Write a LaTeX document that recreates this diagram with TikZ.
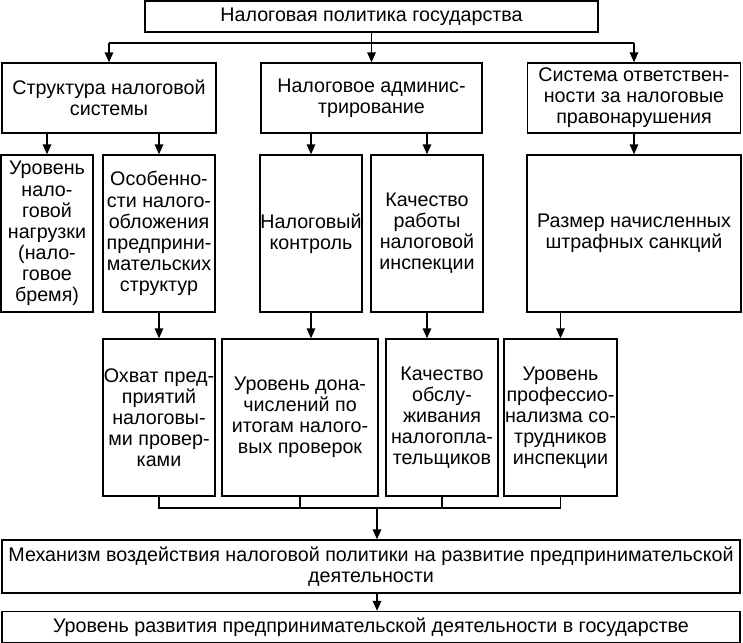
\documentclass[tikz,border=0pt]{standalone}
\usepackage{fontspec}
\setmainfont{Liberation Sans}
\usetikzlibrary{calc}
\usetikzlibrary{arrows.meta}

\begin{document}
\begin{tikzpicture}[
    x=0.025cm, y=-0.025cm,
    every node/.style={font=\fontsize{14}{15}\selectfont},
    line width=1pt
  ]

% Frame of the whole scheme (pixels of the original, y goes down)
\useasboundingbox (0,0) rectangle (743,643);

% Boxes get their width and height in pixels, arrows have a filled tip
\tikzset{box/.style 2 args={
    draw, align=center, inner sep=0pt,
    minimum width=#1*0.025cm, minimum height=#2*0.025cm
  },
  arr/.style={-{Triangle[length=7pt,width=6pt]}}
}

% Vertical centres of the rows
\pgfmathsetmacro{\yone}{16.5}
\pgfmathsetmacro{\ytwo}{98}
\pgfmathsetmacro{\ythree}{233.5}
\pgfmathsetmacro{\yfour}{417.5}

% Row 1: the policy itself
\node[box={453}{31}] (top) at (371.5,\yone) {Налоговая политика государства};

% Row 2: three parts of the policy
\node[box={214}{70}] (str) at (109,\ytwo) {Структура налоговой\\системы};
\node[box={221}{70}] (adm) at (371.5,\ytwo) {Налоговое админис-\\трирование};
\node[box={213}{70}] (otv) at (634,\ytwo) {Система ответствен-\\ности за налоговые\\правонарушения};

% Row 3
\node[box={92}{157}] (urov) at (47,\ythree) {Уровень\\нало-\\говой\\нагрузки\\(нало-\\говое\\бремя)};
\node[box={112}{157}] (osob) at (159,\ythree) {Особенно-\\сти налого-\\обложения\\предприни-\\мательских\\структур};
\node[box={102}{157}] (kontr) at (311,\ythree) {Налоговый\\контроль};
\node[box={112}{157}] (kachr) at (427,\ythree) {Качество\\работы\\налоговой\\инспекции};
\node[box={214}{157}] (razm) at (634,\ythree) {Размер начисленных\\штрафных санкций};

% Row 4
\node[box={112}{157}] (ohvat) at (159,\yfour) {Охват пред-\\приятий\\налоговы-\\ми провер-\\ками};
\node[box={156}{157}] (donach) at (300,\yfour) {Уровень дона-\\числений по\\итогам налого-\\вых проверок};
\node[box={112}{157}] (obsl) at (442,\yfour) {Качество\\обслу-\\живания\\налогопла-\\тельщиков};
\node[box={113}{157}] (prof) at (560.5,\yfour) {Уровень\\профессио-\\нализма со-\\трудников\\инспекции};

% Bottom rows
\node[box={738}{53}] (mech) at (371,566.5) {Механизм воздействия налоговой политики на развитие предпринимательской\\деятельности};
\node[box={738}{31}] (last) at (371,627) {Уровень развития предпринимательской деятельности в государстве};

% Row 1 -> row 2
\coordinate (hub) at (371.5,43);
\draw (top) -- (hub);
\draw (hub -| str) -- (hub -| otv);
\draw[arr] (hub -| str) -- (str.north);
\draw[arr] (hub) -- (adm.north);
\draw[arr] (hub -| otv) -- (otv.north);

% Row 2 -> row 3
\draw[arr] (str.south -| urov) -- (urov.north);
\draw[arr] (str.south -| osob) -- (osob.north);
\draw[arr] (adm.south -| kontr) -- (kontr.north);
\draw[arr] (adm.south -| kachr) -- (kachr.north);
\draw[arr] (otv) -- (razm);

% Row 3 -> row 4
\draw[arr] (osob) -- (ohvat);
\draw[arr] (kontr.south) -- (kontr.south |- donach.north);
\draw[arr] (kachr.south) -- (kachr.south |- obsl.north);
\draw[arr] (razm.south -| prof) -- (prof.north);

% Row 4 gathered into one line, then down to the bottom rows
\coordinate (bus) at (377,508);
\draw (ohvat.south) |- (bus -| prof) -- (prof.south);
\draw (donach.south) -- (donach.south |- bus);
\draw (obsl.south) -- (obsl.south |- bus);
\draw[arr] (bus) -- (bus |- mech.north);
\draw[arr] (mech.south -| bus) -- (bus |- last.north);

\end{tikzpicture}
\end{document}
